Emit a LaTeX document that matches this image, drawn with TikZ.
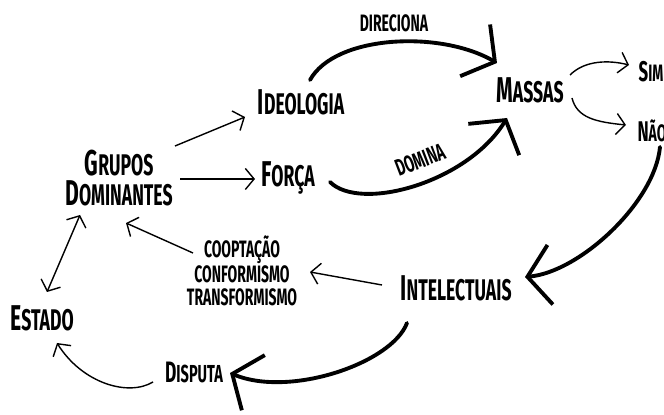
\documentclass[tikz,border=0pt]{standalone}
\usepackage{fontspec}
\newfontfamily\cartaz{Fira Sans}[FakeStretch=0.59]
\usetikzlibrary{arrows.meta}
\newcommand{\ini}[1]{\scalebox{1.2}{#1}}
\begin{document}
\begin{tikzpicture}[x=0.02cm,y=-0.02cm]
        \tikzstyle{termo}=[inner sep=1pt,align=center,font=\cartaz\bfseries\fontsize{17}{17}\selectfont]
        \tikzstyle{rotulo}=[inner sep=1pt,align=center,font=\cartaz\bfseries\fontsize{13.5}{13}\selectfont]
        \tikzstyle{fina}=[draw, line width=0.8pt, -{Straight Barb[length=5pt,width=12pt]}]
        \tikzstyle{grossa}=[draw, line width=2.2pt, line cap=round, -{Straight Barb[length=13pt,width=34pt]}]
        \useasboundingbox (0,0) rectangle (664,415);
         \node [termo] (grupos) at (119,178) {\ini{G}RUPOS\\\ini{D}OMINANTES};
         \node [termo] (ideologia) at (301,102) {\ini{I}DEOLOGIA};
         \node [termo] (forca) at (288,178) {\ini{F}ORÇA};
         \node [termo] (massas) at (530,90) {\ini{M}ASSAS};
         \node [rotulo] (sim) at (651,72) {\ini{S}IM};
         \node [rotulo] (nao) at (652,131) {\ini{N}ÃO};
         \node [termo] (intel) at (456,288) {\ini{I}NTELECTUAIS};
         \node [rotulo] (coopt) at (242,271) {COOPTAÇÃO\\CONFORMISMO\\TRANSFORMISMO};
         \node [rotulo,font=\cartaz\bfseries\fontsize{14}{14}\selectfont] (disputa) at (194,372) {\ini{D}ISPUTA};
         \node [termo] (estado) at (42,318) {\ini{E}STADO};
         \node [rotulo] (direciona) at (394,23) {DIRECIONA};
         \node [rotulo,rotate=21] (domina) at (420,160) {DOMINA};
         \path[fina] ([shift={(56,-32)}]grupos.center) -- ([shift={(-56,15)}]ideologia.center);
         \path[fina] ([shift={(61,1)}]grupos.center) -- ([shift={(-33,1)}]forca.center);
         \path[grossa] ([shift={(9,-22)}]ideologia.center) .. controls +(25,-45) and +(-57,-33) .. ([shift={(-33,-27)}]massas.center);
         \path[grossa] ([shift={(42,4)}]forca.center) .. controls +(30,30) and +(-40,65) .. ([shift={(-23,28)}]massas.center);
         \path[fina] ([shift={(40,-15)}]massas.center) .. controls +(15,-15) and +(-20,-5) .. ([shift={(-22,-7)}]sim.center);
         \path[fina] ([shift={(42,8)}]massas.center) .. controls +(5,20) and +(-30,-3) .. ([shift={(-26,-6)}]nao.center);
         \path[grossa] ([shift={(8,16)}]nao.center) .. controls +(-5,55) and +(55,-5) .. ([shift={(69,-11)}]intel.center);
         \path[fina] ([shift={(-74,-3)}]intel.center) -- ([shift={(68,1)}]coopt.center);
         \path[fina] ([shift={(-49,-18)}]coopt.center) -- ([shift={(7,45)}]grupos.center);
         \path[fina,{Straight Barb[length=5pt,width=12pt]}-{Straight Barb[length=5pt,width=12pt]}] ([shift={(-39,37)}]grupos.center) -- ([shift={(5,-26)}]estado.center);
         \path[grossa] ([shift={(-49,35)}]intel.center) .. controls +(-15,40) and +(60,25) .. ([shift={(36,1)}]disputa.center);
         \path[fina] ([shift={(-41,10)}]disputa.center) .. controls +(-25,15) and +(25,40) .. ([shift={(15,25)}]estado.center);
      \end{tikzpicture}
\end{document}
